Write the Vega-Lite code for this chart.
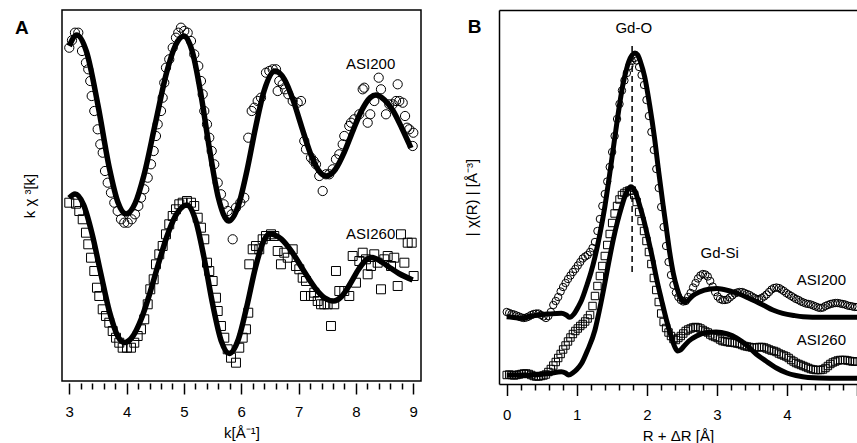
{
"$schema":"https://vega.github.io/schema/vega-lite/v6.json",
"padding":{"left":14,"top":9,"right":0,"bottom":0},
"spacing":39,
"datasets":{
"a200":[{"x":3.000,"y":333.3},{"x":3.047,"y":340.7},{"x":3.099,"y":348.3},{"x":3.157,"y":348.3},{"x":3.222,"y":330},{"x":3.291,"y":318.3},{"x":3.331,"y":311.7},{"x":3.366,"y":300},{"x":3.391,"y":285},{"x":3.436,"y":270},{"x":3.495,"y":251.7},{"x":3.541,"y":236.7},{"x":3.583,"y":228.3},{"x":3.623,"y":210},{"x":3.670,"y":198.3},{"x":3.727,"y":188.3},{"x":3.785,"y":178.3},{"x":3.844,"y":170},{"x":3.902,"y":161.7},{"x":3.959,"y":158.3},{"x":4.019,"y":158.3},{"x":4.088,"y":161.7},{"x":4.146,"y":166.7},{"x":4.204,"y":175},{"x":4.251,"y":183.3},{"x":4.308,"y":191.7},{"x":4.368,"y":203.3},{"x":4.425,"y":216.7},{"x":4.472,"y":230},{"x":4.512,"y":245},{"x":4.542,"y":256.7},{"x":4.600,"y":270},{"x":4.629,"y":283.3},{"x":4.657,"y":298.3},{"x":4.687,"y":313.3},{"x":4.744,"y":321.7},{"x":4.804,"y":333.3},{"x":4.861,"y":343.3},{"x":4.901,"y":348.3},{"x":4.948,"y":353.3},{"x":5.006,"y":350},{"x":5.065,"y":348.3},{"x":5.123,"y":340},{"x":5.180,"y":326.7},{"x":5.250,"y":315},{"x":5.297,"y":300},{"x":5.327,"y":286.7},{"x":5.355,"y":270},{"x":5.402,"y":256.7},{"x":5.442,"y":243.3},{"x":5.484,"y":230},{"x":5.529,"y":216.7},{"x":5.589,"y":198.3},{"x":5.646,"y":186.7},{"x":5.693,"y":176.7},{"x":5.763,"y":170},{"x":5.833,"y":166.7},{"x":5.850,"y":141.7},{"x":5.908,"y":173.3},{"x":5.983,"y":178.3},{"x":6.053,"y":183.3},{"x":6.122,"y":243.3},{"x":6.182,"y":270},{"x":6.227,"y":273.3},{"x":6.286,"y":280},{"x":6.344,"y":283.3},{"x":6.431,"y":308.3},{"x":6.489,"y":310},{"x":6.548,"y":311.7},{"x":6.606,"y":311.7},{"x":6.635,"y":290},{"x":6.663,"y":300},{"x":6.722,"y":296.7},{"x":6.762,"y":291.7},{"x":6.820,"y":286.7},{"x":6.897,"y":280},{"x":6.984,"y":278.3},{"x":7.042,"y":280},{"x":7.099,"y":240},{"x":7.129,"y":231.7},{"x":7.216,"y":223.3},{"x":7.263,"y":220},{"x":7.303,"y":216.7},{"x":7.361,"y":205},{"x":7.420,"y":190},{"x":7.478,"y":206.7},{"x":7.535,"y":206.7},{"x":7.595,"y":211.7},{"x":7.652,"y":221.7},{"x":7.710,"y":226.7},{"x":7.769,"y":236.7},{"x":7.797,"y":245},{"x":7.884,"y":255},{"x":7.914,"y":258.3},{"x":7.971,"y":261.7},{"x":8.059,"y":266.7},{"x":8.118,"y":291.7},{"x":8.146,"y":293.3},{"x":8.205,"y":258.3},{"x":8.250,"y":266.7},{"x":8.320,"y":280},{"x":8.397,"y":303.3},{"x":8.437,"y":291.7},{"x":8.524,"y":266.7},{"x":8.582,"y":276.7},{"x":8.641,"y":276.7},{"x":8.699,"y":280},{"x":8.728,"y":296.7},{"x":8.756,"y":280},{"x":8.816,"y":278.3},{"x":8.857,"y":265},{"x":8.891,"y":253.3},{"x":8.931,"y":251.7},{"x":8.990,"y":235},{"x":9.001,"y":248.3}],
"a260":[{"x":3.000,"y":178.3},{"x":3.117,"y":177.3},{"x":3.174,"y":170},{"x":3.234,"y":161.7},{"x":3.291,"y":148.3},{"x":3.331,"y":136.7},{"x":3.379,"y":123.3},{"x":3.436,"y":110},{"x":3.483,"y":93.3},{"x":3.523,"y":85},{"x":3.583,"y":71.7},{"x":3.640,"y":65},{"x":3.698,"y":58.3},{"x":3.757,"y":50},{"x":3.815,"y":43.3},{"x":3.872,"y":38.3},{"x":3.931,"y":33.3},{"x":4.006,"y":33.3},{"x":4.076,"y":33.3},{"x":4.134,"y":38.3},{"x":4.193,"y":45},{"x":4.251,"y":51.7},{"x":4.308,"y":61.7},{"x":4.368,"y":76.7},{"x":4.413,"y":91.7},{"x":4.472,"y":101.7},{"x":4.512,"y":116.7},{"x":4.570,"y":126.7},{"x":4.629,"y":135},{"x":4.687,"y":146.7},{"x":4.744,"y":156.7},{"x":4.804,"y":165},{"x":4.861,"y":171.7},{"x":4.919,"y":176.7},{"x":4.978,"y":178.3},{"x":5.053,"y":180},{"x":5.123,"y":178.3},{"x":5.180,"y":175},{"x":5.240,"y":163.3},{"x":5.297,"y":153.3},{"x":5.355,"y":141.7},{"x":5.402,"y":118.3},{"x":5.442,"y":110},{"x":5.501,"y":100},{"x":5.559,"y":83.3},{"x":5.589,"y":70},{"x":5.646,"y":55},{"x":5.704,"y":43.3},{"x":5.763,"y":31.7},{"x":5.821,"y":23.3},{"x":5.908,"y":18.3},{"x":5.965,"y":33.3},{"x":6.025,"y":43.3},{"x":6.082,"y":51.7},{"x":6.122,"y":68.3},{"x":6.140,"y":116.7},{"x":6.199,"y":131.7},{"x":6.257,"y":135},{"x":6.314,"y":131.7},{"x":6.373,"y":141.7},{"x":6.431,"y":145},{"x":6.519,"y":146.7},{"x":6.576,"y":145},{"x":6.635,"y":130},{"x":6.692,"y":116.7},{"x":6.750,"y":128.3},{"x":6.810,"y":123.3},{"x":6.897,"y":131.7},{"x":6.954,"y":115},{"x":7.012,"y":111.7},{"x":7.071,"y":103.3},{"x":7.129,"y":100},{"x":7.111,"y":85},{"x":7.216,"y":85},{"x":7.274,"y":88.3},{"x":7.333,"y":80},{"x":7.391,"y":76.7},{"x":7.448,"y":76.7},{"x":7.507,"y":76.7},{"x":7.565,"y":55},{"x":7.622,"y":76.7},{"x":7.652,"y":110},{"x":7.710,"y":90},{"x":7.797,"y":90},{"x":7.884,"y":85},{"x":7.943,"y":125},{"x":8.001,"y":98.3},{"x":8.059,"y":120},{"x":8.118,"y":128.3},{"x":8.175,"y":121.7},{"x":8.205,"y":106.7},{"x":8.263,"y":115},{"x":8.320,"y":126.7},{"x":8.379,"y":118.3},{"x":8.437,"y":91.7},{"x":8.495,"y":121.7},{"x":8.554,"y":125},{"x":8.612,"y":115},{"x":8.669,"y":123.3},{"x":8.728,"y":95},{"x":8.786,"y":146.7},{"x":8.845,"y":118.3},{"x":8.903,"y":138.3},{"x":8.973,"y":138.3},{"x":9.007,"y":105}],
"a200fit":[{"x":3.0,"y":335},{"x":3.13,"y":346},{"x":3.3,"y":329.3},{"x":3.5,"y":275.9},{"x":3.7,"y":212.7},{"x":3.85,"y":178.5},{"x":3.99,"y":167},{"x":4.15,"y":177.8},{"x":4.3,"y":205.3},{"x":4.5,"y":257.3},{"x":4.7,"y":309},{"x":4.85,"y":335.4},{"x":5.0,"y":345},{"x":5.15,"y":328.6},{"x":5.3,"y":285.3},{"x":5.45,"y":230.4},{"x":5.6,"y":183.3},{"x":5.78,"y":160},{"x":5.95,"y":175.7},{"x":6.1,"y":210.7},{"x":6.25,"y":253.7},{"x":6.4,"y":290.5},{"x":6.59,"y":310},{"x":6.75,"y":301.9},{"x":6.9,"y":281.6},{"x":7.05,"y":254.7},{"x":7.2,"y":228.6},{"x":7.35,"y":210.4},{"x":7.48,"y":205},{"x":7.65,"y":212.4},{"x":7.8,"y":229.2},{"x":7.95,"y":250.6},{"x":8.1,"y":270.6},{"x":8.25,"y":283.4},{"x":8.35,"y":286},{"x":8.5,"y":281},{"x":8.65,"y":270},{"x":8.8,"y":253},{"x":8.96,"y":233}],
"a260fit":[{"x":3.0,"y":183},{"x":3.1,"y":187},{"x":3.25,"y":176.2},{"x":3.4,"y":146.7},{"x":3.55,"y":107.4},{"x":3.7,"y":69.5},{"x":3.85,"y":44.4},{"x":3.96,"y":38.5},{"x":4.1,"y":44},{"x":4.25,"y":61.2},{"x":4.4,"y":86.8},{"x":4.55,"y":116.2},{"x":4.7,"y":144},{"x":4.85,"y":164.9},{"x":5.05,"y":176},{"x":5.2,"y":161.4},{"x":5.35,"y":123.5},{"x":5.5,"y":77},{"x":5.65,"y":40.2},{"x":5.79,"y":27.5},{"x":5.95,"y":41.8},{"x":6.1,"y":75.4},{"x":6.25,"y":114},{"x":6.4,"y":141.3},{"x":6.5,"y":147},{"x":6.7,"y":141.8},{"x":6.9,"y":127.7},{"x":7.1,"y":109.2},{"x":7.3,"y":92.1},{"x":7.45,"y":83.3},{"x":7.61,"y":80},{"x":7.75,"y":84.5},{"x":7.9,"y":97.2},{"x":8.05,"y":112},{"x":8.17,"y":120.7},{"x":8.28,"y":123.5},{"x":8.45,"y":119},{"x":8.6,"y":113},{"x":8.75,"y":107.5},{"x":8.99,"y":101}],
"b200":[{"x":0,"y":72},{"x":0.035,"y":71},{"x":0.07,"y":70},{"x":0.105,"y":69.5},{"x":0.14,"y":68.5},{"x":0.175,"y":67.5},{"x":0.21,"y":66.5},{"x":0.245,"y":66},{"x":0.28,"y":66.5},{"x":0.315,"y":67.5},{"x":0.35,"y":69},{"x":0.385,"y":70},{"x":0.42,"y":70.5},{"x":0.455,"y":70.5},{"x":0.49,"y":69},{"x":0.525,"y":67.5},{"x":0.56,"y":66},{"x":0.595,"y":68},{"x":0.63,"y":72},{"x":0.665,"y":79},{"x":0.7,"y":83},{"x":0.735,"y":87},{"x":0.77,"y":92.5},{"x":0.805,"y":97},{"x":0.84,"y":101},{"x":0.875,"y":105},{"x":0.91,"y":108.5},{"x":0.945,"y":112},{"x":0.98,"y":115},{"x":1.015,"y":118.5},{"x":1.05,"y":122},{"x":1.085,"y":125.5},{"x":1.12,"y":127.5},{"x":1.155,"y":129},{"x":1.19,"y":132},{"x":1.225,"y":136},{"x":1.26,"y":142},{"x":1.295,"y":153},{"x":1.33,"y":165},{"x":1.365,"y":178},{"x":1.4,"y":190},{"x":1.435,"y":202.5},{"x":1.47,"y":217},{"x":1.505,"y":232},{"x":1.54,"y":248},{"x":1.575,"y":265},{"x":1.61,"y":280},{"x":1.645,"y":293.5},{"x":1.68,"y":303.5},{"x":1.715,"y":311},{"x":1.75,"y":318},{"x":1.785,"y":323},{"x":1.82,"y":326},{"x":1.855,"y":323.5},{"x":1.89,"y":317},{"x":1.925,"y":309},{"x":1.96,"y":299},{"x":1.995,"y":284},{"x":2.03,"y":268},{"x":2.065,"y":252},{"x":2.1,"y":234},{"x":2.135,"y":215},{"x":2.17,"y":196},{"x":2.205,"y":177},{"x":2.24,"y":157},{"x":2.275,"y":138},{"x":2.31,"y":122},{"x":2.345,"y":109},{"x":2.38,"y":99},{"x":2.415,"y":91.5},{"x":2.45,"y":87},{"x":2.485,"y":84},{"x":2.52,"y":82.5},{"x":2.555,"y":83},{"x":2.59,"y":87},{"x":2.625,"y":91},{"x":2.66,"y":96.5},{"x":2.695,"y":101},{"x":2.73,"y":105.5},{"x":2.765,"y":108.5},{"x":2.8,"y":110},{"x":2.835,"y":109.5},{"x":2.87,"y":107.5},{"x":2.905,"y":103},{"x":2.94,"y":97.5},{"x":2.975,"y":92},{"x":3.01,"y":87.5},{"x":3.045,"y":85},{"x":3.08,"y":84},{"x":3.115,"y":84},{"x":3.15,"y":84.5},{"x":3.185,"y":86.5},{"x":3.22,"y":88.5},{"x":3.255,"y":90.5},{"x":3.29,"y":91.5},{"x":3.325,"y":92},{"x":3.36,"y":92},{"x":3.395,"y":91},{"x":3.43,"y":90},{"x":3.465,"y":89},{"x":3.5,"y":87.5},{"x":3.535,"y":86},{"x":3.57,"y":85},{"x":3.605,"y":85},{"x":3.64,"y":86},{"x":3.675,"y":87.5},{"x":3.71,"y":89.5},{"x":3.745,"y":92},{"x":3.78,"y":94.5},{"x":3.815,"y":96},{"x":3.85,"y":96.5},{"x":3.885,"y":96},{"x":3.92,"y":94.5},{"x":3.955,"y":93},{"x":3.99,"y":91},{"x":4.025,"y":89.5},{"x":4.06,"y":88},{"x":4.095,"y":86.5},{"x":4.13,"y":85},{"x":4.165,"y":84},{"x":4.2,"y":82.5},{"x":4.235,"y":81.5},{"x":4.27,"y":80.5},{"x":4.305,"y":80},{"x":4.34,"y":79.5},{"x":4.375,"y":78.5},{"x":4.41,"y":77.5},{"x":4.445,"y":76.5},{"x":4.48,"y":76},{"x":4.515,"y":76.5},{"x":4.55,"y":78},{"x":4.585,"y":79},{"x":4.62,"y":80},{"x":4.655,"y":80.5},{"x":4.69,"y":81},{"x":4.725,"y":81},{"x":4.76,"y":80.5},{"x":4.795,"y":80},{"x":4.83,"y":79.5},{"x":4.865,"y":78.5},{"x":4.9,"y":78},{"x":4.935,"y":77.5},{"x":4.97,"y":77},{"x":5.005,"y":77}],
"b260":[{"x":0,"y":9},{"x":0.035,"y":9.5},{"x":0.07,"y":9},{"x":0.105,"y":8.5},{"x":0.14,"y":9},{"x":0.175,"y":9.5},{"x":0.21,"y":10},{"x":0.245,"y":10.5},{"x":0.28,"y":10.5},{"x":0.315,"y":10},{"x":0.35,"y":9},{"x":0.385,"y":8},{"x":0.42,"y":7.5},{"x":0.455,"y":7.5},{"x":0.49,"y":8},{"x":0.525,"y":8.5},{"x":0.56,"y":9.5},{"x":0.595,"y":12},{"x":0.63,"y":15},{"x":0.665,"y":18.5},{"x":0.7,"y":22},{"x":0.735,"y":26},{"x":0.77,"y":30},{"x":0.805,"y":34.5},{"x":0.84,"y":38.5},{"x":0.875,"y":42.5},{"x":0.91,"y":46.5},{"x":0.945,"y":50},{"x":0.98,"y":53},{"x":1.015,"y":55.5},{"x":1.05,"y":58},{"x":1.085,"y":60},{"x":1.12,"y":62.5},{"x":1.155,"y":65.5},{"x":1.19,"y":69},{"x":1.225,"y":78},{"x":1.26,"y":88},{"x":1.295,"y":98},{"x":1.33,"y":108},{"x":1.365,"y":118},{"x":1.4,"y":128},{"x":1.435,"y":139},{"x":1.47,"y":150},{"x":1.505,"y":161},{"x":1.54,"y":170.5},{"x":1.575,"y":178},{"x":1.61,"y":184.5},{"x":1.645,"y":189},{"x":1.68,"y":191},{"x":1.715,"y":192.5},{"x":1.75,"y":193.5},{"x":1.785,"y":193.5},{"x":1.82,"y":189},{"x":1.855,"y":182},{"x":1.89,"y":172},{"x":1.925,"y":163},{"x":1.96,"y":153},{"x":1.995,"y":143},{"x":2.03,"y":132},{"x":2.065,"y":120},{"x":2.1,"y":106},{"x":2.135,"y":94},{"x":2.17,"y":82},{"x":2.205,"y":70.5},{"x":2.24,"y":62},{"x":2.275,"y":56},{"x":2.31,"y":51.5},{"x":2.345,"y":48},{"x":2.38,"y":45},{"x":2.415,"y":44},{"x":2.45,"y":46},{"x":2.485,"y":48},{"x":2.52,"y":50.5},{"x":2.555,"y":53},{"x":2.59,"y":54.5},{"x":2.625,"y":55.5},{"x":2.66,"y":56.5},{"x":2.695,"y":57},{"x":2.73,"y":56.5},{"x":2.765,"y":55.5},{"x":2.8,"y":54},{"x":2.835,"y":52.5},{"x":2.87,"y":51.5},{"x":2.905,"y":49.5},{"x":2.94,"y":48},{"x":2.975,"y":47},{"x":3.01,"y":46},{"x":3.045,"y":44.5},{"x":3.08,"y":43},{"x":3.115,"y":42.5},{"x":3.15,"y":42},{"x":3.185,"y":41.5},{"x":3.22,"y":41.5},{"x":3.255,"y":41},{"x":3.29,"y":40.5},{"x":3.325,"y":40},{"x":3.36,"y":39},{"x":3.395,"y":38},{"x":3.43,"y":37.5},{"x":3.465,"y":37},{"x":3.5,"y":36.5},{"x":3.535,"y":36.5},{"x":3.57,"y":36.5},{"x":3.605,"y":37},{"x":3.64,"y":37},{"x":3.675,"y":36.5},{"x":3.71,"y":35.5},{"x":3.745,"y":34.5},{"x":3.78,"y":33.5},{"x":3.815,"y":33},{"x":3.85,"y":32},{"x":3.885,"y":30.5},{"x":3.92,"y":29.5},{"x":3.955,"y":28.5},{"x":3.99,"y":27.5},{"x":4.025,"y":26},{"x":4.06,"y":24},{"x":4.095,"y":22.5},{"x":4.13,"y":21},{"x":4.165,"y":20},{"x":4.2,"y":19},{"x":4.235,"y":18},{"x":4.27,"y":17},{"x":4.305,"y":16},{"x":4.34,"y":15},{"x":4.375,"y":14.5},{"x":4.41,"y":14},{"x":4.445,"y":14},{"x":4.48,"y":14},{"x":4.515,"y":14.5},{"x":4.55,"y":16},{"x":4.585,"y":18},{"x":4.62,"y":20},{"x":4.655,"y":21.5},{"x":4.69,"y":22.5},{"x":4.725,"y":23.5},{"x":4.76,"y":24},{"x":4.795,"y":24},{"x":4.83,"y":24},{"x":4.865,"y":23.5},{"x":4.9,"y":23},{"x":4.935,"y":22.5},{"x":4.97,"y":22.5},{"x":5.005,"y":22.5}],
"b200fit":[{"x":0,"y":67.3},{"x":0.1,"y":66.5},{"x":0.21,"y":65.7},{"x":0.33,"y":67.5},{"x":0.45,"y":69},{"x":0.6,"y":70},{"x":0.78,"y":70.7},{"x":0.85,"y":69},{"x":0.9,"y":66.7},{"x":0.96,"y":70},{"x":1.02,"y":77},{"x":1.07,"y":84},{"x":1.15,"y":100},{"x":1.2,"y":111},{"x":1.26,"y":127},{"x":1.33,"y":150},{"x":1.4,"y":177},{"x":1.47,"y":210},{"x":1.54,"y":245},{"x":1.61,"y":279},{"x":1.66,"y":300},{"x":1.7,"y":312},{"x":1.74,"y":322},{"x":1.79,"y":329},{"x":1.83,"y":331},{"x":1.87,"y":329},{"x":1.91,"y":322},{"x":1.97,"y":307},{"x":2.04,"y":279},{"x":2.11,"y":246},{"x":2.17,"y":212},{"x":2.23,"y":180},{"x":2.28,"y":155},{"x":2.33,"y":130},{"x":2.38,"y":110},{"x":2.43,"y":96},{"x":2.48,"y":86},{"x":2.53,"y":82},{"x":2.58,"y":83},{"x":2.65,"y":88},{"x":2.75,"y":92},{"x":2.9,"y":95},{"x":3.0,"y":95.5},{"x":3.1,"y":94.5},{"x":3.28,"y":91},{"x":3.45,"y":86},{"x":3.66,"y":79},{"x":3.8,"y":74},{"x":3.94,"y":70.7},{"x":4.1,"y":68.5},{"x":4.23,"y":67.3},{"x":4.5,"y":66.7},{"x":5.0,"y":66.7}],
"b260fit":[{"x":0,"y":9},{"x":0.3,"y":9},{"x":0.6,"y":10.5},{"x":0.78,"y":12.3},{"x":0.84,"y":11},{"x":0.88,"y":9},{"x":0.95,"y":11.5},{"x":1.0,"y":14.5},{"x":1.07,"y":20.7},{"x":1.15,"y":33},{"x":1.26,"y":54},{"x":1.33,"y":76},{"x":1.4,"y":100.7},{"x":1.46,"y":123},{"x":1.52,"y":144},{"x":1.58,"y":162},{"x":1.64,"y":177.3},{"x":1.7,"y":190},{"x":1.77,"y":197.3},{"x":1.83,"y":193},{"x":1.9,"y":178},{"x":1.96,"y":163},{"x":2.02,"y":145},{"x":2.08,"y":126},{"x":2.14,"y":105},{"x":2.21,"y":84},{"x":2.28,"y":64},{"x":2.35,"y":47},{"x":2.4,"y":37},{"x":2.44,"y":33},{"x":2.48,"y":34},{"x":2.52,"y":37},{"x":2.6,"y":43},{"x":2.71,"y":48},{"x":2.85,"y":51.5},{"x":2.99,"y":52},{"x":3.15,"y":50},{"x":3.28,"y":46},{"x":3.42,"y":39},{"x":3.56,"y":30},{"x":3.7,"y":23},{"x":3.85,"y":16},{"x":4.0,"y":11},{"x":4.13,"y":8.5},{"x":4.3,"y":6.5},{"x":4.61,"y":5.7},{"x":5.0,"y":5.7}]
},
"hconcat":[
{
"width":359,"height":371,
"resolve":{"axis":{"x":"independent","y":"independent"}},
"layer":[
{"data":{"name":"a200"},"mark":{"type":"point","shape":"circle","filled":false,"size":85,"color":"black","strokeWidth":1,"opacity":1},
"encoding":{
"x":{"field":"x","type":"quantitative","scale":{"domain":[2.873,9.135],"nice":false,"zero":false},
"axis":{"orient":"bottom","values":[3,4,5,6,7,8,9],"format":"d","tickSize":11,
"offset":2,"domain":false,"labelPadding":10,"labelOverlap":false,"labelFlush":false,"title":"k[Å⁻¹]","titlePadding":6}},
"y":{"field":"y","type":"quantitative","scale":{"domain":[0,371],"nice":false,"zero":false},
"axis":{"orient":"left","labels":false,"ticks":false,"domain":false,"title":"k χ ³[k]","titlePadding":25}}}},
{"data":{"name":"a260"},"mark":{"type":"point","shape":"square","filled":false,"size":80,"color":"black","strokeWidth":1,"opacity":1},
"encoding":{"x":{"field":"x","type":"quantitative",
"axis":{"orient":"bottom","values":[3.2,3.4,3.6,3.8,4.2,4.4,4.6,4.8,5.2,5.4,5.6,5.8,6.2,6.4,6.6,6.8,7.2,7.4,7.6,7.8,8.2,8.4,8.6,8.8],"tickSize":6,"offset":2,"domain":false,"labels":false,"title":null}},
"y":{"field":"y","type":"quantitative","axis":null}}},
{"data":{"name":"a200fit"},"mark":{"type":"line","interpolate":"monotone","strokeWidth":5.5,"color":"black"},
"encoding":{"x":{"field":"x","type":"quantitative","axis":null},"y":{"field":"y","type":"quantitative","axis":null}}},
{"data":{"name":"a260fit"},"mark":{"type":"line","interpolate":"monotone","strokeWidth":5.5,"color":"black"},
"encoding":{"x":{"field":"x","type":"quantitative","axis":null},"y":{"field":"y","type":"quantitative","axis":null}}},
{"data":{"values":[{}]},"mark":{"type":"text","text":"ASI200","align":"right","baseline":"middle","fontSize":15,"color":"black"},
"encoding":{"x":{"datum":8.686,"type":"quantitative","axis":null},"y":{"datum":316.7,"type":"quantitative","axis":null}}},
{"data":{"values":[{}]},"mark":{"type":"text","text":"ASI260","align":"right","baseline":"middle","fontSize":15,"color":"black"},
"encoding":{"x":{"datum":8.686,"type":"quantitative","axis":null},"y":{"datum":146.7,"type":"quantitative","axis":null}}},
{"data":{"values":[{}]},"mark":{"type":"text","text":"A","align":"center","baseline":"middle","fontSize":19,"fontWeight":"bold","color":"black"},
"encoding":{"x":{"datum":2.175,"type":"quantitative","axis":null},"y":{"datum":353,"type":"quantitative","axis":null}}}
]
},
{
"width":358,"height":374,
"view":{"stroke":null},
"resolve":{"axis":{"x":"independent","y":"independent"}},
"layer":[
{"data":{"name":"b200"},"mark":{"type":"point","shape":"circle","filled":false,"size":55,"color":"black","strokeWidth":1,"opacity":1},
"encoding":{
"x":{"field":"x","type":"quantitative","scale":{"domain":[-0.11,5.0],"nice":false,"zero":false},
"axis":{"orient":"bottom","values":[0,1,2,3,4,5],"labelExpr":"datum.value < 4.9 ? format(datum.value, 'd') : ''","tickSize":11.5,
"offset":0,"domain":true,"labelPadding":12,"labelOverlap":false,"labelFlush":false,"title":"R + ΔR [Å]","titlePadding":6}},
"y":{"field":"y","type":"quantitative","scale":{"domain":[0,374],"nice":false,"zero":false},
"axis":{"orient":"left","labels":false,"ticks":false,"domain":true,"title":"| χ(R) | [Å⁻³]","titlePadding":20}}}},
{"data":{"name":"b260"},"mark":{"type":"point","shape":"square","filled":false,"size":55,"color":"black","strokeWidth":1,"opacity":1},
"encoding":{"x":{"field":"x","type":"quantitative",
"axis":{"orient":"bottom","values":[0.2,0.4,0.6,0.8,1.2,1.4,1.6,1.8,2.2,2.4,2.6,2.8,3.2,3.4,3.6,3.8,4.2,4.4,4.6,4.8],"tickSize":6,"offset":0,"domain":false,"labels":false,"title":null}},
"y":{"field":"y","type":"quantitative","axis":null}}},
{"data":{"name":"b200fit"},"mark":{"type":"line","interpolate":"monotone","strokeWidth":5,"color":"black"},
"encoding":{"x":{"field":"x","type":"quantitative","axis":null},"y":{"field":"y","type":"quantitative","axis":null}}},
{"data":{"name":"b260fit"},"mark":{"type":"line","interpolate":"monotone","strokeWidth":5,"color":"black"},
"encoding":{"x":{"field":"x","type":"quantitative","axis":null},"y":{"field":"y","type":"quantitative","axis":null}}},
{"data":{"values":[{}]},"mark":{"type":"rule","strokeDash":[6,4],"strokeWidth":1.5,"color":"black"},
"encoding":{"x":{"datum":1.79,"type":"quantitative","axis":null},"y":{"datum":112,"type":"quantitative","axis":null},"y2":{"datum":342}}},
{"data":{"values":[{}]},"mark":{"type":"text","text":"Gd-O","align":"center","baseline":"middle","fontSize":15,"color":"black"},
"encoding":{"x":{"datum":1.813,"type":"quantitative","axis":{"orient":"top","labels":false,"ticks":false,"domain":true,"title":null,"grid":false}},"y":{"datum":355.7,"type":"quantitative","axis":null}}},
{"data":{"values":[{}]},"mark":{"type":"text","text":"Gd-Si","align":"center","baseline":"middle","fontSize":15,"color":"black"},
"encoding":{"x":{"datum":3.04,"type":"quantitative","axis":null},"y":{"datum":130.7,"type":"quantitative","axis":null}}},
{"data":{"values":[{}]},"mark":{"type":"text","text":"ASI200","align":"right","baseline":"middle","fontSize":15,"color":"black"},
"encoding":{"x":{"datum":4.843,"type":"quantitative","axis":null},"y":{"datum":104.3,"type":"quantitative","axis":null}}},
{"data":{"values":[{}]},"mark":{"type":"text","text":"ASI260","align":"right","baseline":"middle","fontSize":15,"color":"black"},
"encoding":{"x":{"datum":4.843,"type":"quantitative","axis":null},"y":{"datum":44,"type":"quantitative","axis":null}}},
{"data":{"values":[{}]},"mark":{"type":"text","text":"B","align":"center","baseline":"middle","fontSize":19,"fontWeight":"bold","color":"black"},
"encoding":{"x":{"datum":-0.457,"type":"quantitative","axis":null},"y":{"datum":357,"type":"quantitative","axis":null}}}
]
}
],
"config":{
"font":"Liberation Sans",
"view":{"stroke":"black","strokeWidth":1.5},
"axis":{"grid":false,"domainColor":"black","tickColor":"black","labelColor":"black","titleColor":"black","labelFontSize":15,"titleFontSize":15,"titleFontWeight":"normal","tickWidth":1.5,"domainWidth":1.5,"labelFont":"Liberation Sans","titleFont":"Liberation Sans"}
}
}
